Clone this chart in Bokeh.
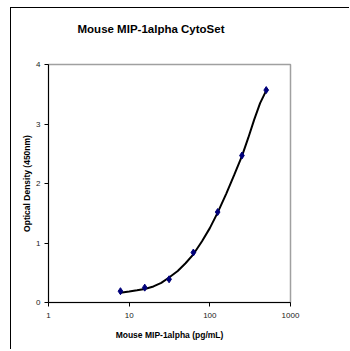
from bokeh.plotting import figure
from bokeh.models import FixedTicker, Title, Range1d
from bokeh.embed import file_html
from bokeh.resources import INLINE

# data: standard concentrations (pg/mL) and optical density
conc = [7.8, 15.6, 31.25, 62.5, 125, 250, 500]
od = [0.19, 0.25, 0.39, 0.84, 1.52, 2.47, 3.57]

# fitted curve
curve_x = [7.8, 10, 12.5, 15.6, 20, 25, 31.25, 40, 50, 62.5, 80, 100, 125,
           160, 200, 250, 300, 354, 420, 500]
curve_y = [0.165, 0.185, 0.205, 0.228, 0.27, 0.33, 0.42, 0.53, 0.66, 0.81,
           1.03, 1.25, 1.51, 1.83, 2.14, 2.46, 2.77, 3.07, 3.35, 3.56]

x_ticks = [1, 10, 100, 1000]
y_ticks = [0, 1, 2, 3, 4]
title_text = "Mouse MIP-1alpha CytoSet"

FONT = "Liberation Sans"

p = figure(width=339, height=342, x_axis_type="log",
           x_range=Range1d(1, 1000), y_range=Range1d(0, 4),
           output_backend="svg", toolbar_location=None,
           min_border_left=37, min_border_right=60,
           min_border_top=56, min_border_bottom=48)
p.title = None
spacer = Title(text=" ", text_font_size="2px", standoff=26)
p.add_layout(spacer, "above")
t = Title(text=title_text, align="left", offset=29,
          text_font=FONT, text_font_size="11.5px", text_font_style="bold",
          text_color="black", standoff=0)
p.add_layout(t, "above")

p.styles = {"border-top": "1px solid black", "border-left": "1px solid black",
            "margin-left": "10px", "margin-top": "7px"}

p.grid.visible = False
p.outline_line_color = "#a0a0a0"
p.outline_line_width = 1.5
p.background_fill_color = "white"
p.border_fill_color = "white"

for ax in (p.xaxis[0], p.yaxis[0]):
    ax.axis_line_color = "black"
    ax.axis_line_width = 1
    ax.major_tick_line_color = "black"
    ax.major_tick_out = 4
    ax.major_tick_in = 0
    ax.minor_tick_line_color = None
    ax.major_label_text_font = FONT
    ax.major_label_text_font_size = "8px"
    ax.major_label_text_color = "#222222"
    ax.axis_label_text_font = FONT
    ax.axis_label_text_font_style = "bold"
    ax.axis_label_text_font_size = "8.5px"
    ax.axis_label_text_color = "black"

p.xaxis.ticker = FixedTicker(ticks=x_ticks)
p.xaxis.major_label_overrides = {v: str(v) for v in x_ticks}
p.xaxis.axis_label = "Mouse MIP-1alpha (pg/mL)"
p.xaxis.major_label_standoff = 6
p.xaxis.axis_label_standoff = 9
p.yaxis.ticker = FixedTicker(ticks=y_ticks)
p.yaxis.axis_label = "Optical Density (450nm)"
p.yaxis.major_label_standoff = 4
p.yaxis.axis_label_standoff = 1

p.line(curve_x, curve_y, line_color="black", line_width=2)
p.scatter(conc, od, marker="diamond", size=7, fill_color="#00007a",
          line_color="#00007a")

open("out.html", "w").write(file_html(p, INLINE))
